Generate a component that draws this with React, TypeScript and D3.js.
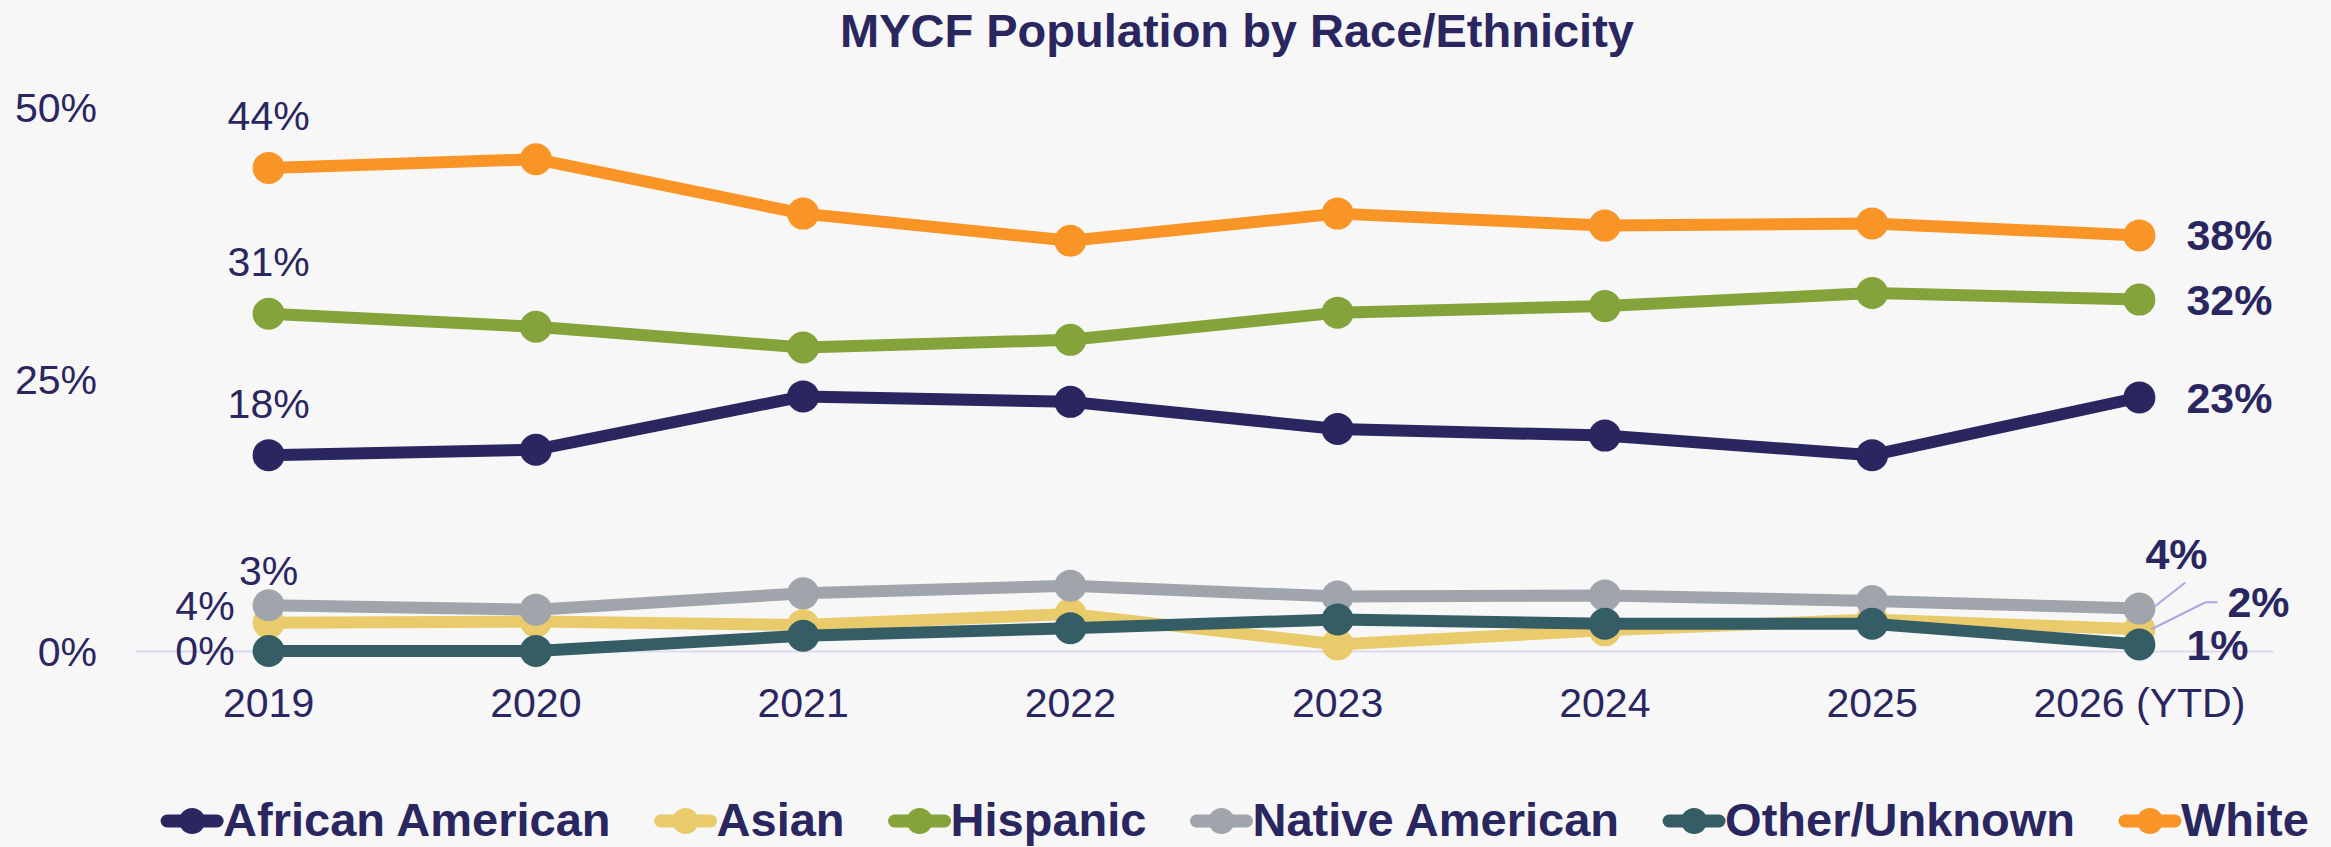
import React, { useEffect, useRef } from 'react'
import * as d3 from 'd3'

// data (percent of population)
const years = ['2019', '2020', '2021', '2022', '2023', '2024', '2025', '2026 (YTD)']
const seriesNames = ['African American', 'Asian', 'Hispanic', 'Native American', 'Other/Unknown', 'White']
const africanAmerican = [18.0, 18.5, 23.4, 22.9, 20.4, 19.8, 18.0, 23.3]
const asian = [2.6, 2.7, 2.4, 3.4, 0.6, 1.9, 2.9, 2.0]
const hispanic = [31.0, 29.8, 27.9, 28.6, 31.1, 31.7, 32.9, 32.3]
const nativeAmerican = [4.2, 3.8, 5.3, 6.0, 5.0, 5.1, 4.6, 3.9]
const otherUnknown = [0, 0, 1.4, 2.1, 2.9, 2.5, 2.5, 0.6]
const white = [44.4, 45.2, 40.2, 37.7, 40.2, 39.1, 39.3, 38.2]
const yTicks = [0, 25, 50]

const seriesValues = [africanAmerican, asian, hispanic, nativeAmerican, otherUnknown, white]
const colors = ['#2a2660', '#eacb6b', '#84a33b', '#9fa5ab', '#345d66', '#f99426']

// how the first / last point labels sit relative to their marker
const firstPlace = ['above', 'above', 'above', 'left', 'left', 'above']
const lastPlace = [
  { dx: 47, dy: 0 },
  { dx: 88, dy: -27, leader: true },
  { dx: 47, dy: 0 },
  { dx: 6, dy: -55, leader: true },
  { dx: 47, dy: 0 },
  { dx: 47, dy: 0 },
]

const NAVY = '#2a2660'
const FONT = '"Liberation Sans", Arial, sans-serif'

export default function App() {
  const ref = useRef<SVGSVGElement>(null)

  useEffect(() => {
    document.body.style.margin = '0'
    const W = 2331, H = 847
    const svg = d3.select(ref.current).attr('width', W).attr('height', H)
    svg.selectAll('*').remove()
    svg.append('rect').attr('width', W).attr('height', H).attr('fill', '#f7f7f7')

    const x = d3.scaleBand<string>().domain(years).range([135, 2273])
    const cx = (i: number) => (x(years[i]) as number) + x.bandwidth() / 2
    const y = d3.scaleLinear().domain([0, 50]).range([651, 107])

    // title
    svg.append('text').attr('x', 1237).attr('y', 47).attr('text-anchor', 'middle')
      .attr('font-family', FONT).attr('font-size', 47).attr('font-weight', 'bold').attr('fill', NAVY)
      .text('MYCF Population by Race/Ethnicity')

    // axes
    const xAxis = svg.append('g').attr('transform', `translate(0,${y(0)})`)
      .call(d3.axisBottom(x).tickSize(0).tickSizeOuter(0).tickPadding(37))
    xAxis.select('.domain').attr('stroke', '#dcd9f1').attr('stroke-width', 2)
    xAxis.selectAll('text').attr('fill', NAVY).attr('font-size', 41).attr('font-family', FONT)

    const yAxis = svg.append('g').attr('transform', 'translate(97,0)')
      .call(d3.axisLeft(y).tickValues(yTicks).tickFormat(d => `${d}%`).tickSize(0).tickPadding(0))
    yAxis.select('.domain').remove()
    yAxis.selectAll('text').attr('fill', NAVY).attr('font-size', 41).attr('font-family', FONT).attr('dy', '0.35em')

    const line = d3.line<number>().x((d, i) => cx(i)).y(d => y(d))
    const last = years.length - 1

    seriesNames.forEach((name, s) => {
      const vals = seriesValues[s]
      const g = svg.append('g')
      g.append('path').attr('d', line(vals)).attr('fill', 'none').attr('stroke', colors[s])
        .attr('stroke-width', 12).attr('stroke-linejoin', 'round')
      g.selectAll('circle').data(vals).join('circle')
        .attr('cx', (d, i) => cx(i)).attr('cy', d => y(d)).attr('r', 16).attr('fill', colors[s])
    })

    // point labels (drawn after all lines)
    seriesNames.forEach((name, s) => {
      const vals = seriesValues[s]
      const v0 = vals[0]
      const t0 = svg.append('text').attr('font-family', FONT).attr('font-size', 41).attr('fill', NAVY)
        .attr('dy', '0.35em').text(`${Math.round(v0)}%`)
      if (firstPlace[s] === 'above') t0.attr('x', cx(0)).attr('y', y(v0) - 52).attr('text-anchor', 'middle')
      else t0.attr('x', cx(0) - 34).attr('y', y(v0)).attr('text-anchor', 'end')

      const vl = vals[last]
      const p = lastPlace[s]
      const px = cx(last), py = y(vl)
      if (p.leader) {
        const tx = px + p.dx, ty = py + p.dy
        const pts: [number, number][] = p.dx > 60
          ? [[px + 12, py], [tx - 22, ty], [tx - 10, ty]]
          : [[px + 14, py - 1], [tx + 40, ty + 29]]
        svg.append('path').attr('d', d3.line()(pts)).attr('fill', 'none')
          .attr('stroke', '#a9a6e0').attr('stroke-width', 2)
      }
      svg.append('text').attr('font-family', FONT).attr('font-size', 43).attr('font-weight', 'bold')
        .attr('fill', NAVY).attr('dy', '0.35em')
        .attr('x', px + p.dx).attr('y', py + p.dy).text(`${Math.round(vl)}%`)
    })

    // legend
    const lg = svg.append('g')
    let lx = 0
    seriesNames.forEach((name, s) => {
      const item = lg.append('g').attr('transform', `translate(${lx},0)`)
      item.append('line').attr('x1', 6).attr('x2', 56).attr('y1', 821).attr('y2', 821)
        .attr('stroke', colors[s]).attr('stroke-width', 13).attr('stroke-linecap', 'round')
      item.append('circle').attr('cx', 31).attr('cy', 821).attr('r', 13).attr('fill', colors[s])
      const t = item.append('text').attr('x', 62).attr('y', 836).attr('font-family', FONT)
        .attr('font-size', 47).attr('font-weight', 'bold').attr('fill', NAVY).text(name)
      const w = (t.node() as SVGTextElement).getComputedTextLength()
      lx += 62 + w + 44
    })
    const total = lx - 44
    lg.attr('transform', `translate(${1235 - total / 2},0)`)
  }, [])

  return <svg ref={ref} style={{ position: 'absolute', left: 0, top: 0, display: 'block' }}></svg>
}
